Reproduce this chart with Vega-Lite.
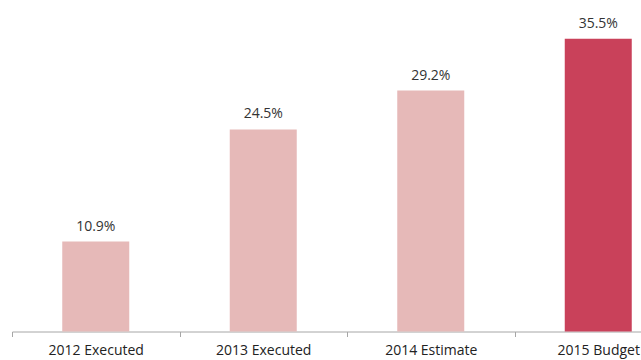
{
  "$schema": "https://vega.github.io/schema/vega-lite/v6.json",
  "width": 629,
  "height": 330,
  "autosize": "none",
  "padding": {"left": 12, "top": 1.5, "right": 0, "bottom": 28.5},
  "background": "white",
  "config": {"view": {"stroke": null}, "font": "Open Sans"},
  "data": {"values": [
    {"category": "2012 Executed", "value": 0.109, "type": "past"},
    {"category": "2013 Executed", "value": 0.245, "type": "past"},
    {"category": "2014 Estimate", "value": 0.292, "type": "past"},
    {"category": "2015 Budget", "value": 0.355, "type": "budget"}
  ]},
  "encoding": {
    "x": {"field": "category", "type": "nominal", "sort": null,
      "scale": {"paddingInner": 0, "paddingOuter": 0, "range": [0, 670]},
      "axis": {"title": null, "labelAngle": 0, "tickBand": "extent", "domainColor": "#A6A6A6", "tickColor": "#A6A6A6", "tickSize": 5, "labelPadding": 7, "labelFontSize": 14, "labelColor": "#222222", "labelFont": "Open Sans"}},
    "y": {"field": "value", "type": "quantitative", "scale": {"domain": [0, 0.4], "nice": false}, "axis": null}
  },
  "layer": [
    {"mark": {"type": "bar", "width": {"band": 0.4}},
     "encoding": {"color": {"field": "type", "type": "nominal", "scale": {"domain": ["past", "budget"], "range": ["#E6B9B8", "#C9415A"]}, "legend": null}}},
    {"mark": {"type": "text", "baseline": "alphabetic", "dy": -11, "fontSize": 14, "color": "#333333"},
     "encoding": {"text": {"field": "value", "type": "quantitative", "format": ".1%"}}}
  ]
}
